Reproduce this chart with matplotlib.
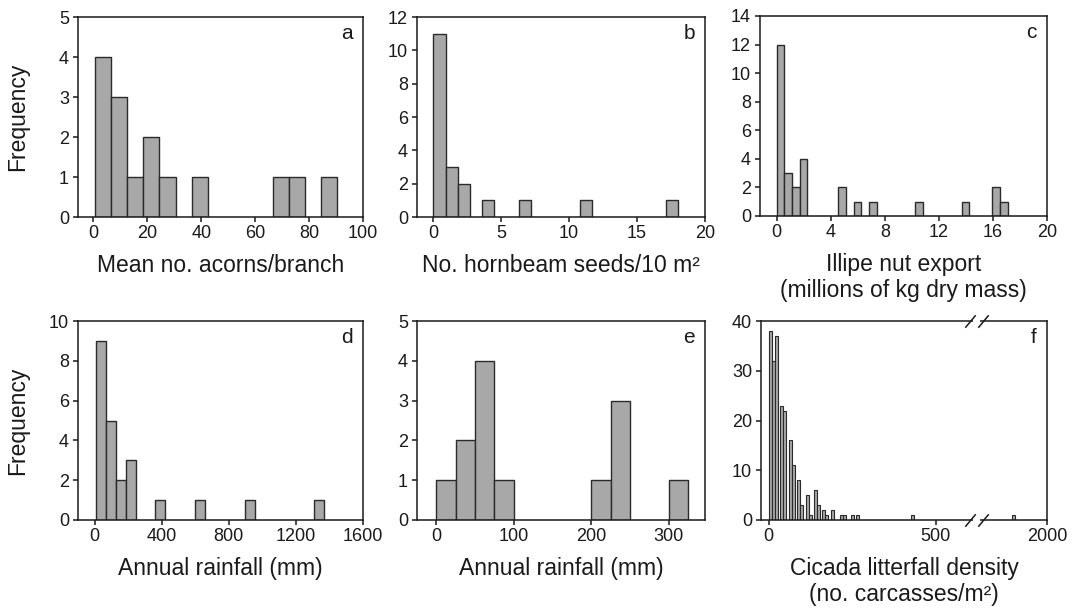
import numpy as np
import matplotlib
matplotlib.use("Agg")
import matplotlib.pyplot as plt
import matplotlib.transforms as mtransforms

plt.rcParams['font.family'] = ['Liberation Sans', 'DejaVu Sans']

# a) acorns: bin left edges and counts (bin width 6)
acorn_left = [0.5, 6.5, 12.5, 18.5, 24.5, 36.5, 66.5, 72.5, 84.5]
acorn_count = [4, 3, 1, 2, 1, 1, 1, 1, 1]
acorn_width = 6

# b) hornbeam seeds (bin width 0.9)
hornbeam_left = [0.0, 0.9, 1.8, 3.6, 6.3, 10.8, 17.1]
hornbeam_count = [11, 3, 2, 1, 1, 1, 1]
hornbeam_width = 0.9

# c) illipe nut export (bin width 0.57)
illipe_left = [0.0, 0.57, 1.14, 1.71, 4.56, 5.70, 6.84, 10.26, 13.68, 15.96, 16.53]
illipe_count = [12, 3, 2, 4, 2, 1, 1, 1, 1, 2, 1]
illipe_width = 0.57

# d) annual rainfall, first set (bin width 60 mm)
rain1_left = [8, 68, 128, 188, 362, 600, 894, 1310]
rain1_count = [9, 5, 2, 3, 1, 1, 1, 1]
rain1_width = 60

# e) annual rainfall, second set (bin width 25 mm)
rain2_left = [0, 25, 50, 75, 200, 225, 300]
rain2_count = [1, 2, 4, 1, 1, 3, 1]
rain2_width = 25

# f) cicada litterfall density (bar centres, width 9)
cicada_mid = [4, 13, 22, 37, 46, 64, 73, 90, 99, 115, 124, 140, 149, 165, 174,
              191, 217, 227, 252, 267, 432, 1900]
cicada_count = [38, 32, 37, 23, 22, 16, 11, 8, 3, 5, 1, 6, 3, 2, 1,
                2, 1, 1, 1, 1, 1, 1]
cicada_width = 9

W, H = 1073, 609
fig = plt.figure(figsize=(W / 100, H / 100), dpi=100)

def box(x0, y0, x1, y1):
    return [x0 / W, 1 - y1 / H, (x1 - x0) / W, (y1 - y0) / H]

ax_a = fig.add_axes(box(78, 17, 363, 217))
ax_b = fig.add_axes(box(417, 17, 705, 217))
ax_c = fig.add_axes(box(760, 16, 1047, 216))
ax_d = fig.add_axes(box(78, 321, 363, 520))
ax_e = fig.add_axes(box(417, 321, 705, 520))
ax_f = fig.add_axes(box(761, 321, 1047, 520))

face = '#a8a8a8'
edge = '#2a2a2a'
ink = '#1a1a1a'

def style(ax, letter, xlabel, ylabel=None):
    for s in ax.spines.values():
        s.set_linewidth(1.1)
        s.set_color(ink)
    ax.tick_params(direction='out', length=3.5, width=1.1, labelsize=13,
                   colors=ink, pad=2)
    ax.tick_params(axis='y', pad=3)
    ax.set_xlabel(xlabel, fontsize=16.5, labelpad=9, color=ink,
                  linespacing=1.15)
    if ylabel:
        ax.set_ylabel(ylabel, fontsize=16.5, color=ink)
        ax.yaxis.set_label_coords(-0.172, 0.5)
    ax.text(0.965, 0.965, letter, transform=ax.transAxes, ha='right', va='top',
            fontsize=15, color=ink)

def hist(ax, left, count, width):
    ax.bar(left, count, width=width, align='edge', color=face,
           edgecolor=edge, linewidth=1.0)

hist(ax_a, acorn_left, acorn_count, acorn_width)
ax_a.set_xlim(-5.7, 100)
ax_a.set_ylim(0, 5)
ax_a.set_xticks(range(0, 101, 20))
ax_a.set_yticks(range(0, 6))
style(ax_a, 'a', 'Mean no. acorns/branch', 'Frequency')

hist(ax_b, hornbeam_left, hornbeam_count, hornbeam_width)
ax_b.set_xlim(-1.2, 20)
ax_b.set_ylim(0, 12)
ax_b.set_xticks(range(0, 21, 5))
ax_b.set_yticks(range(0, 13, 2))
style(ax_b, 'b', 'No. hornbeam seeds/10 m\u00b2')

hist(ax_c, illipe_left, illipe_count, illipe_width)
ax_c.set_xlim(-1.23, 20)
ax_c.set_ylim(0, 14)
ax_c.set_xticks(range(0, 21, 4))
ax_c.set_yticks(range(0, 15, 2))
style(ax_c, 'c', 'Illipe nut export\n(millions of kg dry mass)')

hist(ax_d, rain1_left, rain1_count, rain1_width)
ax_d.set_xlim(-99, 1600)
ax_d.set_ylim(0, 10)
ax_d.set_xticks(range(0, 1601, 400))
ax_d.set_yticks(range(0, 11, 2))
style(ax_d, 'd', 'Annual rainfall (mm)', 'Frequency')

hist(ax_e, rain2_left, rain2_count, rain2_width)
ax_e.set_xlim(-25, 347)
ax_e.set_ylim(0, 5)
ax_e.set_xticks(range(0, 301, 100))
ax_e.set_yticks(range(0, 6))
style(ax_e, 'e', 'Annual rainfall (mm)')

# broken x axis for panel f
def fwd(x):
    x = np.asarray(x, dtype=float)
    return np.where(x < 1000, x, x - 1166)

def inv(y):
    y = np.asarray(y, dtype=float)
    return np.where(y < 620, y, y + 1166)

ax_f.set_xscale('function', functions=(fwd, inv))
ax_f.bar(cicada_mid, cicada_count, width=cicada_width, align='center',
         color=face, edgecolor=edge, linewidth=0.8)
ax_f.set_xlim(-23, 2000)
ax_f.set_ylim(0, 40)
ax_f.set_xticks([0, 500, 2000])
ax_f.set_xticklabels(['0', '500', '2000'])
ax_f.xaxis.set_minor_locator(plt.NullLocator())
ax_f.set_yticks(range(0, 41, 10))
style(ax_f, 'f', 'Cicada litterfall density\n(no. carcasses/m\u00b2)')

trans = mtransforms.blended_transform_factory(ax_f.transData, ax_f.transAxes)
for yy in (0, 1):
    ax_f.plot([612, 632], [yy, yy], color='white', lw=3, transform=trans,
              clip_on=False, zorder=3, solid_capstyle='butt')
    ax_f.plot([603, 641], [yy, yy], marker=[(-1, -1.2), (1, 1.2)], ms=9,
              ls='none', color=ink, mec=ink, mew=1.1,
              transform=trans, clip_on=False, zorder=4)

fig.savefig('out.png', dpi=100)
